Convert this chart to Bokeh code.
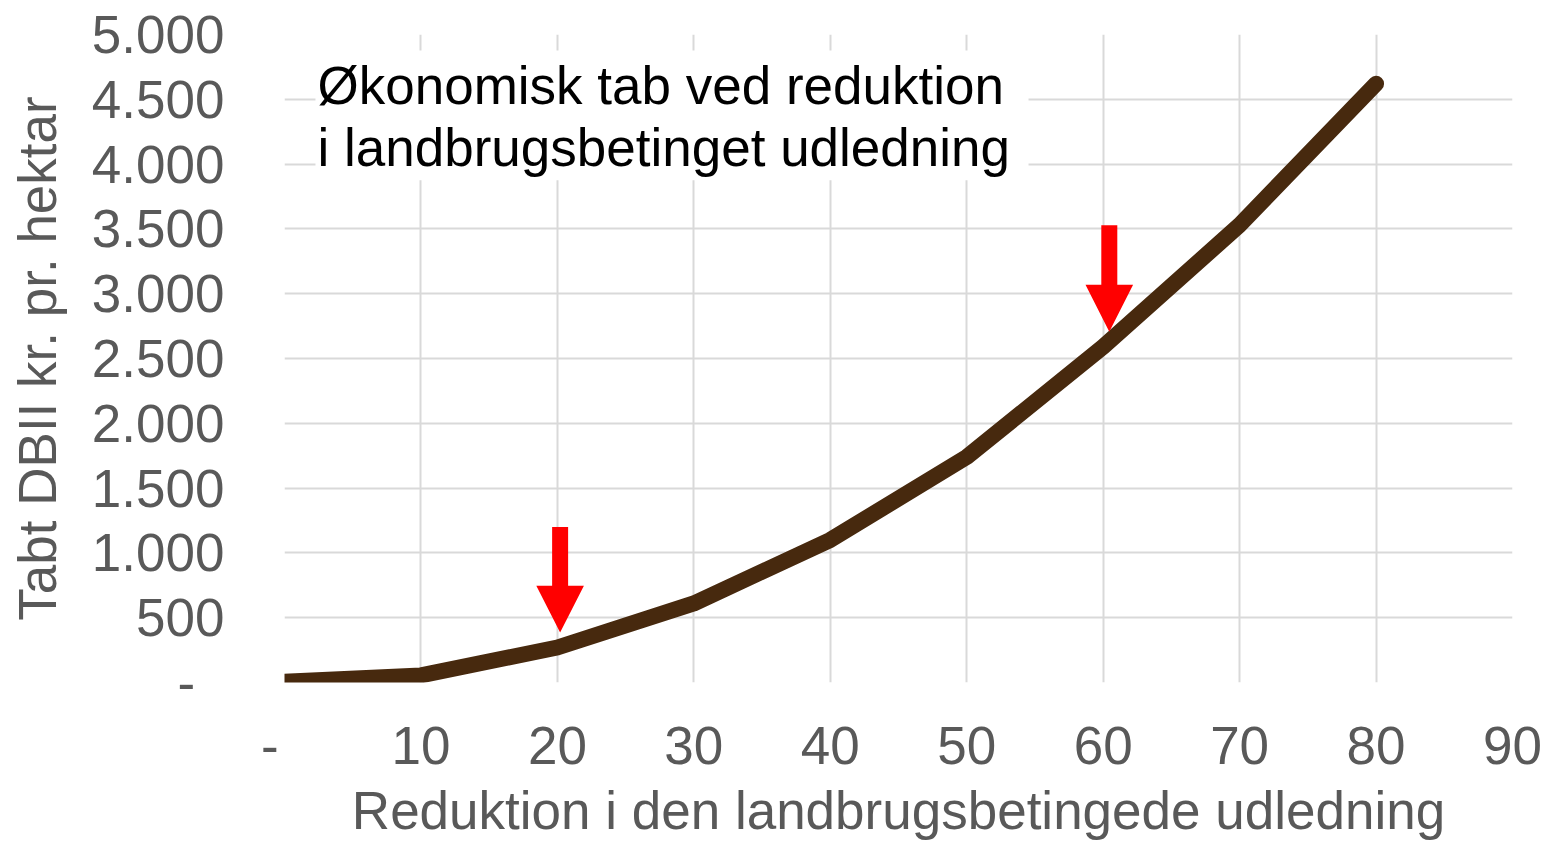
from bokeh.plotting import figure
from bokeh.models import FixedTicker, Range1d
from bokeh.core.properties import value
from bokeh.embed import file_html
from bokeh.resources import INLINE

# data
reduction = [0, 10, 20, 30, 40, 50, 60, 70, 80]
loss = [5, 55, 270, 610, 1100, 1740, 2590, 3530, 4620]
x_ticks = [0, 10, 20, 30, 40, 50, 60, 70, 80, 90]
y_ticks = [0, 500, 1000, 1500, 2000, 2500, 3000, 3500, 4000, 4500, 5000]
y_tick_labels = ["-\u00a0\u00a0", "500", "1.000", "1.500", "2.000", "2.500",
                 "3.000", "3.500", "4.000", "4.500", "5.000"]
x_tick_labels = ["-\u00a0\u00a0", "10", "20", "30", "40", "50", "60", "70", "80", "90"]
arrow_x = [20.2, 60.45]
arrow_top = [1199, 3528]
arrow_tip = [385, 2706]
title_lines = ["Økonomisk tab ved reduktion", "i landbrugsbetinget udledning"]
x_title = "Reduktion i den landbrugsbetingede udledning"
y_title = "Tabt DBII kr. pr. hektar"

FONT = "Liberation Sans"
GREY = "#595959"

p = figure(width=1545, height=842, output_backend="svg", toolbar_location=None,
           x_range=Range1d(0, 90), y_range=Range1d(0, 5000),
           min_border_left=284, min_border_right=33, min_border_top=34,
           min_border_bottom=159)
p.outline_line_color = None
p.background_fill_color = "white"

for ax in (p.xaxis[0], p.yaxis[0]):
    ax.axis_line_color = None
    ax.major_tick_line_color = None
    ax.minor_tick_line_color = None
    ax.major_label_text_font = FONT
    ax.major_label_text_font_size = "53px"
    ax.major_label_text_color = GREY
    ax.axis_label_text_font = FONT
    ax.axis_label_text_font_size = "53px"
    ax.axis_label_text_color = GREY
    ax.axis_label_text_font_style = "normal"

p.xaxis.ticker = FixedTicker(ticks=x_ticks)
p.yaxis.ticker = FixedTicker(ticks=y_ticks)
p.xaxis.major_label_overrides = {t: l for t, l in zip(x_ticks, x_tick_labels)}
p.yaxis.major_label_overrides = {t: l for t, l in zip(y_ticks, y_tick_labels)}
p.xaxis.major_label_standoff = 27
p.yaxis.major_label_standoff = 54
p.yaxis.axis_label = y_title
p.yaxis.axis_label_standoff = 22
p.xaxis.axis_label = x_title
p.xaxis.axis_label_standoff = 3

p.xgrid.ticker = FixedTicker(ticks=x_ticks)
p.ygrid.ticker = FixedTicker(ticks=y_ticks)
for g in (p.xgrid[0], p.ygrid[0]):
    g.grid_line_color = "#d9d9d9"
    g.grid_line_width = 2

# title box (white background hides grid)
p.quad(left=[2.27], right=[54.53], bottom=[3875], top=[4877],
       fill_color="white", line_color=None)
p.text(x=[2.42, 2.42], y=[4610, 4125], text=title_lines,
       text_font=value(FONT), text_font_size="53px", text_color="black",
       text_baseline="alphabetic", text_align="left")

# line
p.line(reduction, loss, line_color="#47290e", line_width=16,
       line_cap="round", line_join="round")

# arrows
sx = 13.644
sy = 0.1298
shaft_half = 8 / sx
head_half = 23.8 / sx
head_len = 47 / sy
xs, ys = [], []
for ax_, top, tip in zip(arrow_x, arrow_top, arrow_tip):
    base = tip + head_len
    xs.append([ax_ - shaft_half, ax_ + shaft_half, ax_ + shaft_half,
               ax_ + head_half, ax_, ax_ - head_half, ax_ - shaft_half])
    ys.append([top, top, base, base, tip, base, base])
p.patches(xs, ys, fill_color="#ff0000", line_color=None)

open("out.html", "w").write(file_html(p, INLINE))
